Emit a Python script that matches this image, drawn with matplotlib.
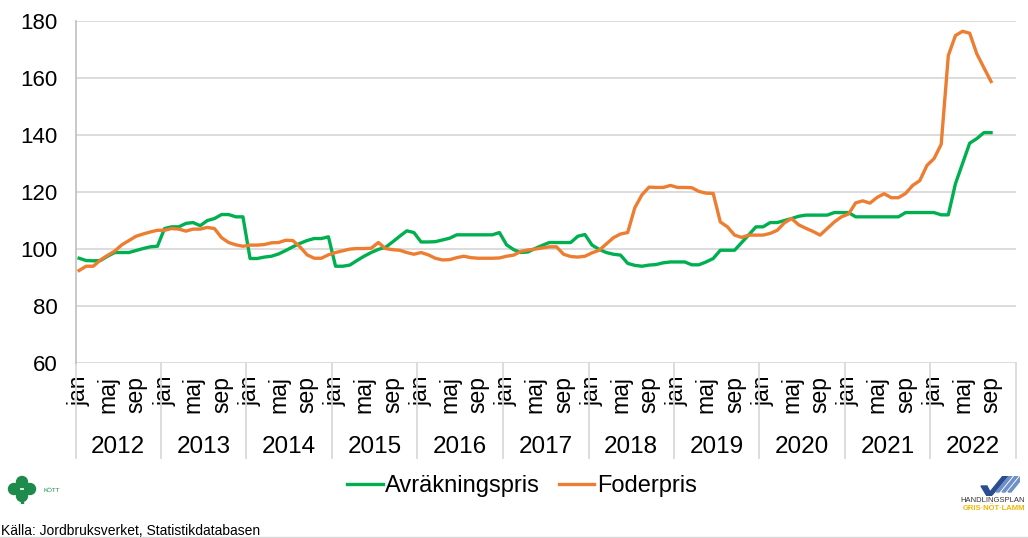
import numpy as np
import matplotlib
matplotlib.use("Agg")
import matplotlib.pyplot as plt
from matplotlib.patches import Circle, Polygon
from matplotlib.transforms import blended_transform_factory

plt.rcParams["font.family"] = ["Liberation Sans", "DejaVu Sans"]

# ---- data (monthly index, jan 2012 .. sep 2022) ----
years = ["2012", "2013", "2014", "2015", "2016", "2017", "2018", "2019", "2020", "2021", "2022"]
month_labels = ["jan", "maj", "sep"]
month_offsets = [0, 4, 8]

avrakningspris = [
    96.8, 96.0, 95.9, 96.0, 97.5, 98.8, 98.8, 98.8, 99.5, 100.2, 100.8, 101.0,
    107.2, 107.8, 107.8, 109.0, 109.3, 108.2, 110.0, 110.7, 112.1, 112.1, 111.3, 111.3,
    96.7, 96.7, 97.2, 97.5, 98.3, 99.5, 100.8, 102.0, 103.0, 103.7, 103.7, 104.3,
    94.0, 94.0, 94.4, 96.0, 97.5, 98.8, 99.9, 100.6, 102.5, 104.5, 106.4, 105.8,
    102.5, 102.5, 102.6, 103.2, 103.8, 105.0, 105.0, 105.0, 105.0, 105.0, 105.0, 105.8,
    101.5, 99.8, 98.8, 99.0, 100.2, 101.3, 102.3, 102.3, 102.3, 102.3, 104.5, 105.1,
    101.4, 99.9, 98.8, 98.2, 97.9, 95.0, 94.3, 94.0, 94.4, 94.6, 95.2, 95.5,
    95.5, 95.5, 94.5, 94.5, 95.5, 96.7, 99.6, 99.6, 99.6, 102.3, 105.0, 107.8,
    107.8, 109.3, 109.3, 110.0, 110.7, 111.5, 111.9, 111.9, 111.9, 111.9, 112.8, 112.8,
    112.8, 111.3, 111.3, 111.3, 111.3, 111.3, 111.3, 111.3, 112.8, 112.8, 112.8, 112.8,
    112.8, 112.0, 112.0, 122.9, 130.0, 137.1, 138.7, 140.8, 140.8,
]

foderpris = [
    92.5, 94.0, 94.0, 96.2, 97.8, 99.3, 101.5, 103.0, 104.5, 105.3, 106.0, 106.6,
    106.6, 107.2, 107.0, 106.3, 107.0, 107.0, 107.6, 107.2, 104.0, 102.3, 101.5, 101.0,
    101.4, 101.4, 101.6, 102.2, 102.3, 103.1, 103.0, 100.8, 98.0, 96.8, 96.8, 98.0,
    98.8, 99.4, 100.0, 100.2, 100.2, 100.3, 102.3, 100.2, 99.8, 99.6, 98.8, 98.2,
    98.8, 98.0, 96.8, 96.2, 96.3, 97.0, 97.5, 97.0, 96.8, 96.8, 96.8, 96.9,
    97.5, 97.9, 99.2, 99.7, 100.0, 100.4, 100.8, 100.8, 98.2, 97.4, 97.2, 97.5,
    98.7, 99.6, 101.8, 104.0, 105.3, 105.8, 114.5, 119.0, 121.7, 121.6, 121.6, 122.3,
    121.6, 121.6, 121.5, 120.2, 119.6, 119.5, 109.5, 107.8, 104.9, 104.1, 104.9, 104.9,
    104.9, 105.5, 106.6, 109.2, 110.7, 108.5, 107.3, 106.2, 104.9, 107.2, 109.5, 111.3,
    112.3, 116.2, 116.9, 116.1, 118.1, 119.4, 118.0, 118.0, 119.5, 122.3, 124.0, 129.3,
    131.7, 136.7, 167.8, 174.8, 176.3, 175.6, 168.4, 163.5, 158.7,
]

GREEN = "#00b050"
ORANGE = "#ed7d31"
GRID = "#d9d9d9"

W, H = 1028, 538
fig = plt.figure(figsize=(W / 100, H / 100), dpi=100)

# plot area in pixels: left 75.5, right 1016, top 20.7, bottom 363.3
px_l, px_r, px_t, px_b = 75.5, 1016, 20.7, 363.3
ax = fig.add_axes([px_l / W, 1 - px_b / H, (px_r - px_l) / W, (px_b - px_t) / H])

n_cat = len(years) * 12
ax.plot(np.arange(len(avrakningspris)), avrakningspris, color=GREEN, lw=2.4,
        label="Avräkningspris", solid_joinstyle="round")
ax.plot(np.arange(len(foderpris)), foderpris, color=ORANGE, lw=2.4,
        label="Foderpris", solid_joinstyle="round")

ax.set_xlim(-0.5, n_cat - 0.5)
ax.set_ylim(60, 180)
ax.set_yticks(np.arange(60, 181, 20))
ax.yaxis.grid(True, color=GRID, lw=1.3)
ax.set_axisbelow(True)
ax.tick_params(axis="y", length=0, pad=13, labelsize=16)

for side in ("top", "right", "bottom"):
    ax.spines[side].set_visible(False)
ax.spines["left"].set_color("#bfbfbf")
ax.spines["left"].set_linewidth(1.2)

# month tick labels
ticks = []
labels = []
for yi in range(len(years)):
    for off, lab in zip(month_offsets, month_labels):
        ticks.append(yi * 12 + off)
        labels.append(lab)
ax.set_xticks(ticks)
ax.set_xticklabels(labels, rotation=90, fontsize=16.5, va="top", ha="center")
ax.tick_params(axis="x", length=0, pad=9)

# year labels and separators
trans = blended_transform_factory(ax.transData, ax.transAxes)
axh = px_b - px_t
sep_bottom = -(458 - px_b) / axh
year_y = -(447 - px_b) / axh
for yi, year in enumerate(years):
    ax.text(yi * 12 + 5.5, year_y, year, transform=trans, ha="center", va="center", fontsize=17.5)
for yi in range(len(years) + 1):
    ax.plot([yi * 12 - 0.5] * 2, [0, sep_bottom], transform=trans, color=GRID, lw=1.3, clip_on=False)

# legend
fig.legend(
    loc="center",
    bbox_to_anchor=(522 / W, 1 - 486 / H),
    ncol=2,
    frameon=False,
    fontsize=17,
    handlelength=1.5,
    handletextpad=0.1,
    columnspacing=0.8,
)

# source text and bottom rule
fig.text(1 / W, 1 - 531 / H, "Källa: Jordbruksverket, Statistikdatabasen", fontsize=10, va="center", ha="left")
fig.add_artist(plt.Line2D([0, 1], [1 - 536.5 / H] * 2, color="#d9d9d9", lw=1.0))

# left logo (green clover + text)
lax = fig.add_axes([6 / W, 1 - 504 / H, 32 / W, 30 / H])
lax.set_xlim(0, 32)
lax.set_ylim(0, 30)
lax.set_aspect("equal")
lax.axis("off")
for cx, cy in [(16, 22), (8, 15), (24, 15), (16, 8)]:
    lax.add_patch(Circle((cx, cy), 5.5, color="#1e8a4c"))
lax.add_patch(Polygon([(15, 0), (17, 0), (17, 10), (15, 10)], closed=True, color="#1e8a4c"))
fig.text(44 / W, 1 - 490 / H, "KÖTT", fontsize=4.5, color="#1e8a4c", va="center", ha="left")

# right logo (check mark + text)
rax = fig.add_axes([978 / W, 1 - 496 / H, 42 / W, 20 / H])
rax.set_xlim(0, 42)
rax.set_ylim(0, 20)
rax.axis("off")
rax.add_patch(Polygon([(3, 10), (9, 10), (12, 4), (25, 20), (31, 20), (13, 0), (9, 0)], closed=True, color="#2a4d8f"))
for k in range(3):
    xo = 18 + k * 6
    rax.add_patch(Polygon([(xo, 4), (xo + 3, 4), (xo + 16, 20), (xo + 13, 20)], closed=True, color="#6f8fc8"))
fig.text(1025 / W, 1 - 501 / H, "HANDLINGSPLAN", fontsize=5.5, color="#333333", va="center", ha="right")
fig.text(1025 / W, 1 - 508 / H, "GRIS·NÖT·LAMM", fontsize=5.5, color="#f2b705", va="center", ha="right", fontweight="bold")

fig.savefig("out.png", dpi=100)
